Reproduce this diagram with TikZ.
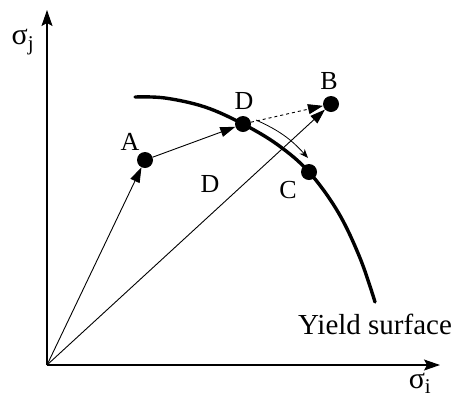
\documentclass[tikz,border=0pt]{standalone}
\usepackage{fontspec}
\setmainfont{Liberation Serif}
\usetikzlibrary{arrows.meta}
\tikzset{
  dot/.style={circle,fill=black,inner sep=0pt,minimum size=16pt},
  lbl/.style={inner sep=0pt,font=\fontsize{26}{28}\selectfont},
  axis/.style={line width=1.1pt,-{Stealth[length=16pt,width=11pt,inset=3pt]}},
  vec/.style={line width=0.9pt,-{Triangle[length=15pt,width=10pt]}},
  sig/.style={inner sep=0pt,font=\fontsize{30}{32}\selectfont},
}
\begin{document}
\begin{tikzpicture}[x=1pt,y=-1pt]
\useasboundingbox (0,0) rectangle (454,405);
\coordinate (O) at (47,365);
\coordinate (Yend) at (47,10);
\coordinate (Xend) at (440,365);
\draw[axis] (O) -- (Yend);
\draw[axis] (O) -- (Xend);
% yield surface
\draw[line width=3.4pt,line cap=round] plot[smooth,tension=0.6] coordinates {(135,97) (165,98) (205,107) (243,124) (278,145) (309,172) (338,212) (360,258) (375,302)};
\node[dot] (A) at (145,160) {};
\node[dot] (D) at (243,124) {};
\node[dot] (B) at (331,104) {};
\node[dot] (C) at (309,172) {};
\draw[vec] (O) -- (A);
\draw[vec] (A) -- (D);
\draw[vec] (O) -- (B);
\draw[vec,dashed] (D) -- (B);
\coordinate (Cs) at (256,120);
\coordinate (Ce) at (308,158);
\draw[line width=0.8pt,-{Stealth[length=9pt,width=7pt]}] (Cs) to[bend left=12] (Ce);
\node[lbl] (lA) at (130,142) {A};
\node[lbl] (lD) at (244,101) {D};
\node[lbl] (lB) at (329,81) {B};
\node[lbl] (lD2) at (210,184) {D};
\node[lbl] (lC) at (288,190) {C};
\node[inner sep=0pt,font=\fontsize{29}{31}\selectfont] (ys) at (375,324) {Yield surface};
\node[sig] (sj) at (23,42) {σ\textsubscript{j}};
\node[sig] (si) at (420,383) {σ\textsubscript{i}};
\end{tikzpicture}
\end{document}
